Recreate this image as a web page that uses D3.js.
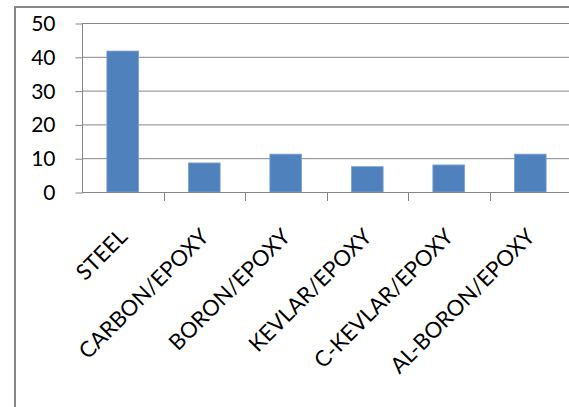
<!DOCTYPE html>
<html><head><meta charset="utf-8">
<script src="https://cdn.jsdelivr.net/npm/d3@7"></script>
<style>html,body{margin:0;padding:0;background:#fff;}svg{display:block;}</style>
</head><body>
<script>
const categories = ["STEEL","CARBON/EPOXY","BORON/EPOXY","KEVLAR/EPOXY","C-KEVLAR/EPOXY","AL-BORON/EPOXY"];
const values = [41.7, 8.6, 11.2, 7.5, 8.0, 11.2];
const yTicks = [0,10,20,30,40,50];

const W = 569, H = 407;
const svg = d3.select("body").append("svg").attr("width", W).attr("height", H);
const mLeft = 82, mRight = 571, mTop = 23, mBottom = 192;

const x = d3.scaleBand().domain(categories).range([mLeft, mRight]).padding(0);
const y = d3.scaleLinear().domain([0, 50]).range([mBottom, mTop]);

// frame
svg.append("path").attr("d", `M15,${H+2}V7H${W+2}`).attr("fill","none").attr("stroke","#878787").attr("stroke-width",2);

const grid = "#868686";
// gridlines
svg.append("g").selectAll("line").data(yTicks.filter(d=>d>0)).join("line")
  .attr("x1", mLeft).attr("x2", W).attr("y1", d=>y(d)+0.5).attr("y2", d=>y(d)+0.5)
  .attr("stroke", grid).attr("stroke-width",1);

// bars
svg.append("g").selectAll("rect").data(categories).join("rect")
  .attr("x", (d)=>x(d)+x.bandwidth()*0.305)
  .attr("width", x.bandwidth()*0.39)
  .attr("y", (d,i)=>y(values[i]))
  .attr("height", (d,i)=>y(0)-y(values[i]))
  .attr("fill", "#4F81BD").attr("stroke","#7FA3CF").attr("stroke-width",0.8);

// y axis
const yAxis = d3.axisLeft(y).tickValues(yTicks).tickSize(7).tickPadding(0).tickFormat(d3.format("d"));
const gy = svg.append("g").attr("transform", `translate(${mLeft+0.5},0)`).call(yAxis);
gy.select(".domain").attr("stroke", grid).attr("d", `M0,${mTop}V${mBottom+0.5}`);
gy.selectAll(".tick line").attr("stroke", grid).attr("transform","translate(0,0.5)");
gy.selectAll(".tick text").attr("x", -27).attr("font-family","Lato").attr("font-size","21px").attr("fill","#000").attr("dy","0.36em");

// x axis
const xAxis = d3.axisBottom(x).tickSize(0).tickFormat("");
const gx = svg.append("g").attr("transform", `translate(0,${mBottom+0.5})`).call(xAxis);
gx.select(".domain").attr("stroke", grid).attr("d", `M${mLeft},0H${W}`);
gx.selectAll(".tick").remove();
// category boundary ticks
svg.append("g").selectAll("line").data(categories.slice(1)).join("line")
  .attr("x1", d=>Math.round(x(d))+0.5).attr("x2", d=>Math.round(x(d))+0.5)
  .attr("y1", mBottom).attr("y2", mBottom+9).attr("stroke", grid);

// category labels
svg.append("g").selectAll("text").data(categories).join("text")
  .attr("transform", d=>`translate(${x(d)+x.bandwidth()/2+6},238) rotate(-45)`)
  .attr("text-anchor","end").attr("font-family","Lato").attr("font-size","22px").attr("fill","#000")
  .text(d=>d);
</script>
</body></html>
